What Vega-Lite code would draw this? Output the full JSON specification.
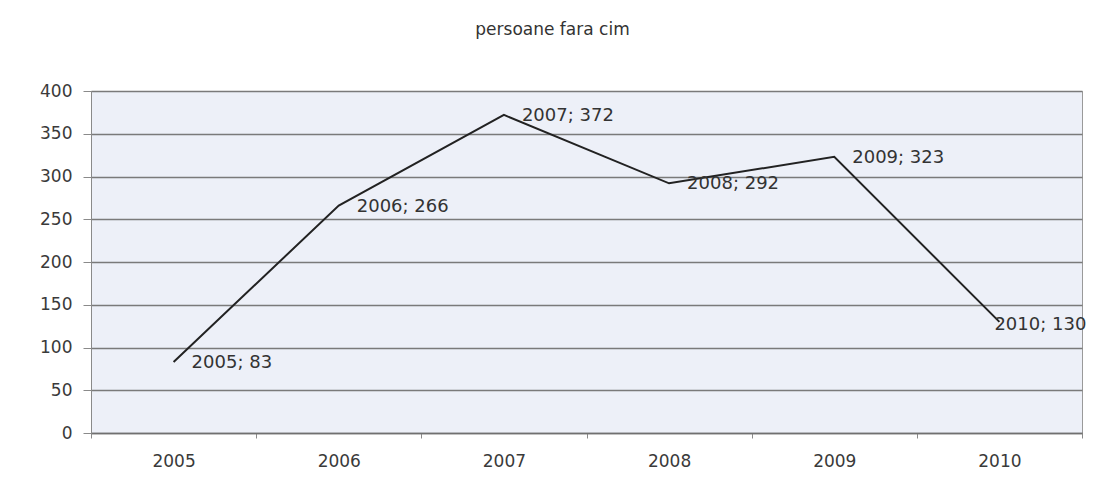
{
  "$schema": "https://vega.github.io/schema/vega-lite/v6.json",
  "autosize": "none",
  "width": 991,
  "height": 342,
  "padding": {"left": 91, "top": 91, "right": 15, "bottom": 50},
  "background": "#ffffff",
  "title": {
    "text": "persoane fara cim",
    "font": "DejaVu Sans",
    "fontSize": 17,
    "fontWeight": "normal",
    "color": "#333333",
    "anchor": "middle",
    "dx": -34,
    "offset": 43
  },
  "config": {
    "view": {"fill": "#edf0f8", "stroke": "#9a9a9a", "strokeWidth": 1},
    "font": "DejaVu Sans"
  },
  "data": {
    "values": [
      {"an": "2005", "valoare": 83, "eticheta": "2005; 83"},
      {"an": "2006", "valoare": 266, "eticheta": "2006; 266"},
      {"an": "2007", "valoare": 372, "eticheta": "2007; 372"},
      {"an": "2008", "valoare": 292, "eticheta": "2008; 292"},
      {"an": "2009", "valoare": 323, "eticheta": "2009; 323"},
      {"an": "2010", "valoare": 130, "eticheta": "2010; 130"}
    ]
  },
  "encoding": {
    "x": {
      "field": "an",
      "type": "ordinal",
      "scale": {"paddingInner": 0, "paddingOuter": 0},
      "axis": {
        "title": null,
        "labelAngle": 0,
        "labelFont": "DejaVu Sans",
        "labelFontSize": 17,
        "labelColor": "#3a3a3a",
        "tickBand": "extent",
        "tickSize": 5,
        "tickColor": "#8a8a8a",
        "domainColor": "#707070",
        "domainWidth": 1.5,
        "labelPadding": 15,
        "grid": false
      }
    },
    "y": {
      "field": "valoare",
      "type": "quantitative",
      "scale": {"domain": [0, 400], "nice": false},
      "axis": {
        "title": null,
        "values": [0, 50, 100, 150, 200, 250, 300, 350, 400],
        "labelFont": "DejaVu Sans",
        "labelFontSize": 17,
        "labelColor": "#3a3a3a",
        "tickSize": 8,
        "tickColor": "#8a8a8a",
        "labelPadding": 11,
        "domainColor": "#8a8a8a",
        "grid": true,
        "gridColor": "#7a7a7a",
        "gridWidth": 1.3
      }
    }
  },
  "layer": [
    {
      "mark": {"type": "line", "color": "#222222", "strokeWidth": 2}
    },
    {
      "transform": [{"filter": "datum.an != '2010'"}],
      "mark": {"type": "text", "align": "left", "baseline": "middle", "dx": 18, "dy": 1, "font": "DejaVu Sans", "fontSize": 18, "color": "#333333"},
      "encoding": {"text": {"field": "eticheta", "type": "nominal"}}
    },
    {
      "transform": [{"filter": "datum.an == '2010'"}],
      "mark": {"type": "text", "align": "left", "baseline": "middle", "dx": -5, "dy": 3, "font": "DejaVu Sans", "fontSize": 18, "color": "#333333"},
      "encoding": {"text": {"field": "eticheta", "type": "nominal"}}
    }
  ]
}
